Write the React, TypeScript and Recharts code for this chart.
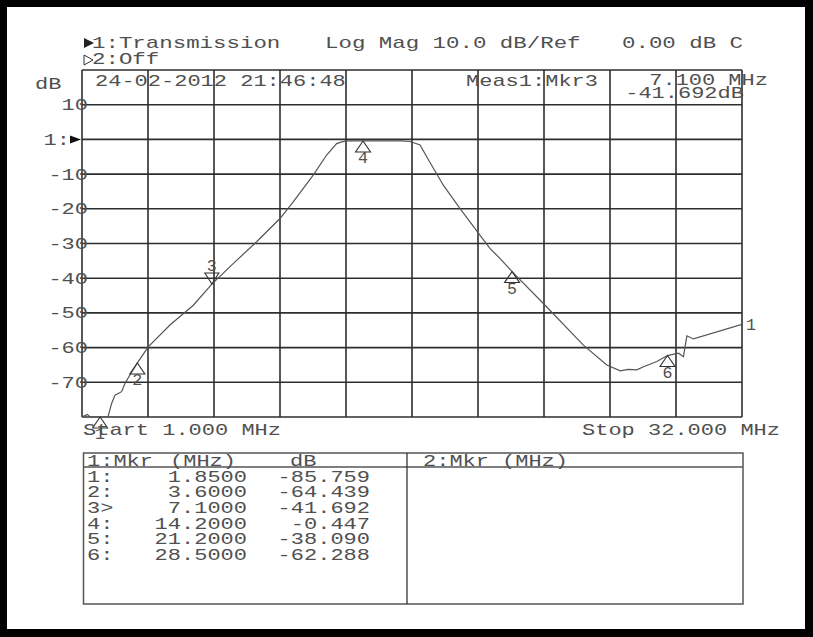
import React from 'react';
import { LineChart, Line, XAxis, YAxis, CartesianGrid, ReferenceDot } from 'recharts';

// ---- data ----
const traceFreq = [1.0, 1.25, 1.38, 1.61, 1.85, 2.22, 2.39, 2.55, 2.86, 3.02, 3.25, 3.6, 4.11, 5.13, 6.23, 7.1, 8.1, 9.2, 10.3, 10.92, 11.86, 12.49, 12.96, 13.2, 13.43, 14.2, 15.0, 16.0, 16.41, 16.88, 17.19, 17.97, 18.75, 19.69, 20.16, 20.63, 21.2, 22.75, 24.55, 25.65, 26.28, 26.65, 27.06, 27.37, 28.0, 28.5, 29.02, 29.25, 29.41, 29.72, 32.0];
const traceDb = [-80, -79.3, -80, -80, -80, -80, -76.1, -73.7, -72.7, -70.3, -67.9, -64.4, -59.8, -53.5, -47.8, -41.7, -35.8, -29.5, -22.8, -18.0, -10.3, -4.5, -1.2, -0.7, -0.45, -0.45, -0.45, -0.45, -0.6, -1.6, -5.0, -13.2, -19.9, -27.6, -31.4, -34.3, -38.1, -47.8, -59.3, -65.0, -66.7, -66.3, -66.4, -65.5, -64.0, -62.3, -61.6, -62.6, -56.6, -57.5, -53.3];

const markerNames = ['1:', '2:', '3>', '4:', '5:', '6:'];
const markerFreq = [1.85, 3.6, 7.1, 14.2, 21.2, 28.5];
const markerDb = [-85.759, -64.439, -41.692, -0.447, -38.09, -62.288];
const activeMarker = 2;

const xTicks = [1, 4.1, 7.2, 10.3, 13.4, 16.5, 19.6, 22.7, 25.8, 28.9, 32];
const yTicks = [20, 10, 0, -10, -20, -30, -40, -50, -60, -70, -80];
const Y_MIN = -80;
const Y_MAX = 20;

const data = traceFreq.map((f, i) => ({ f, db: traceDb[i] }));

// ---- style ----
const FONT = "'Liberation Mono', 'Courier New', monospace";
const CW = 13.2;
const TXT = '#505050';
const PLOT_LEFT = 82;

type MTProps = { x: number; y: number; s: string; anchor?: 'start' | 'end' | 'middle'; size?: number; cw?: number; fill?: string };
function MT({ x, y, s, anchor = 'start', size = 17, cw = CW, fill = TXT }: MTProps) {
  const len = s.length * cw;
  const x0 = anchor === 'end' ? x - len : anchor === 'middle' ? x - len / 2 : x;
  return (
    <text x={x0} y={y} fontFamily={FONT} fontSize={size} fill={fill} textLength={len} lengthAdjust="spacingAndGlyphs" style={{ whiteSpace: 'pre' }}>
      {s}
    </text>
  );
}

const YTick = (props: any) => {
  const { y, payload } = props;
  const v = payload.value;
  if (v === Y_MAX || v === Y_MIN) return <g />;
  if (v === 0) {
    return (
      <g>
        <MT x={70} y={y + 5.5} s="1:" anchor="end" />
        <polygon points={`${70},${y - 4} ${81},${y} ${70},${y + 4}`} fill="#111" />
      </g>
    );
  }
  return <MT x={PLOT_LEFT + 6} y={y + 5.5} s={String(v)} anchor="end" />;
};

const makeMarker = (n: number, down: boolean) => (p: any) => {
  const { cx, cy } = p;
  if (down) {
    return (
      <g>
        <polygon points={`${cx - 7},${cy - 11} ${cx + 7},${cy - 11} ${cx},${cy}`} fill="none" stroke="#333" strokeWidth={1.1} />
        <MT x={cx} y={cy - 13.5} s={String(n)} anchor="middle" size={16} cw={10} />
      </g>
    );
  }
  return (
    <g>
      <polygon points={`${cx},${cy} ${cx - 7.5},${cy + 11} ${cx + 7.5},${cy + 11}`} fill="none" stroke="#333" strokeWidth={1.1} />
      <MT x={cx} y={cy + 22} s={String(n)} anchor="middle" size={16} cw={10} />
    </g>
  );
};

const EndLabel = (props: any) => {
  const { x, y, index } = props;
  if (index !== data.length - 1) return null;
  return <MT x={x + 4} y={y + 6} s="1" size={16} cw={10} />;
};

export default function App() {
  const rowY0 = 481.7;
  const rowDy = 15.6;
  return (
    <div style={{ position: 'absolute', left: 0, top: 0, width: 813, height: 637, background: '#000' }}>
      <div style={{ position: 'absolute', left: 7, top: 7, width: 798, height: 622, background: '#fff' }} />
      <div style={{ position: 'absolute', left: 0, top: 0 }}>
        <LineChart width={813} height={637} data={data} margin={{ top: 70, right: 71, bottom: 220, left: 22 }}>
          <CartesianGrid stroke="#2e2e2e" strokeWidth={1.6} />
          <XAxis type="number" dataKey="f" domain={[1, 32]} ticks={xTicks} hide allowDataOverflow />
          <YAxis type="number" domain={[Y_MIN, Y_MAX]} ticks={yTicks} width={60} axisLine={false} tickLine={false} tickSize={0} tickMargin={0} tick={<YTick />} interval={0} allowDataOverflow />
          <Line type="linear" dataKey="db" stroke="#555" strokeWidth={1.2} dot={false} isAnimationActive={false} label={<EndLabel />} />
          {markerFreq.map((f, i) => (
            <ReferenceDot key={i} x={f} y={Math.max(markerDb[i], Y_MIN)} r={0} ifOverflow="visible" shape={makeMarker(i + 1, i === activeMarker)} />
          ))}
        </LineChart>
      </div>
      <svg width={813} height={637} style={{ position: 'absolute', left: 0, top: 0, pointerEvents: 'none' }}>
        {/* header */}
        <polygon points="84,38 94,43 84,48" fill="#222" />
        <MT x={92} y={48} s="1:Transmission" cw={13.45} />
        <MT x={325} y={48} s="Log Mag 10.0 dB/Ref" cw={13.45} />
        <MT x={622} y={48} s="0.00 dB C" cw={13.45} />
        <polygon points="84,55 93,60 84,65" fill="none" stroke="#333" strokeWidth={1} />
        <MT x={92} y={64} s="2:Off" cw={13.45} />
        <MT x={35} y={89} s="dB" />
        <MT x={95} y={86} s="24-02-2012 21:46:48" />
        <MT x={466} y={86} s="Meas1:Mkr3" />
        <MT x={768} y={85} s={`${markerFreq[activeMarker].toFixed(3)} MHz`} anchor="end" />
        <MT x={744} y={98} s={`${markerDb[activeMarker].toFixed(3)}dB`} anchor="end" />
        <MT x={83} y={435} s="Start 1.000 MHz" />
        <MT x={780} y={435} s="Stop 32.000 MHz" anchor="end" />
        {/* marker table */}
        <rect x={83.5} y={453} width={659.5} height={151} fill="none" stroke="#555" strokeWidth={1.5} />
        <line x1={83.5} y1={467} x2={743} y2={467} stroke="#555" strokeWidth={1.3} />
        <line x1={407} y1={453} x2={407} y2={604} stroke="#333" strokeWidth={1.3} />
        <MT x={87} y={466} s="1:Mkr" />
        <MT x={170} y={466} s="(MHz)" />
        <MT x={290} y={466} s="dB" />
        <MT x={423} y={466} s="2:Mkr" />
        <MT x={502} y={466} s="(MHz)" />
        {markerFreq.map((f, i) => (
          <g key={i}>
            <MT x={87} y={rowY0 + i * rowDy} s={markerNames[i]} />
            <MT x={247} y={rowY0 + i * rowDy} s={f.toFixed(4)} anchor="end" />
            <MT x={370} y={rowY0 + i * rowDy} s={markerDb[i].toFixed(3)} anchor="end" />
          </g>
        ))}
      </svg>
    </div>
  );
}
